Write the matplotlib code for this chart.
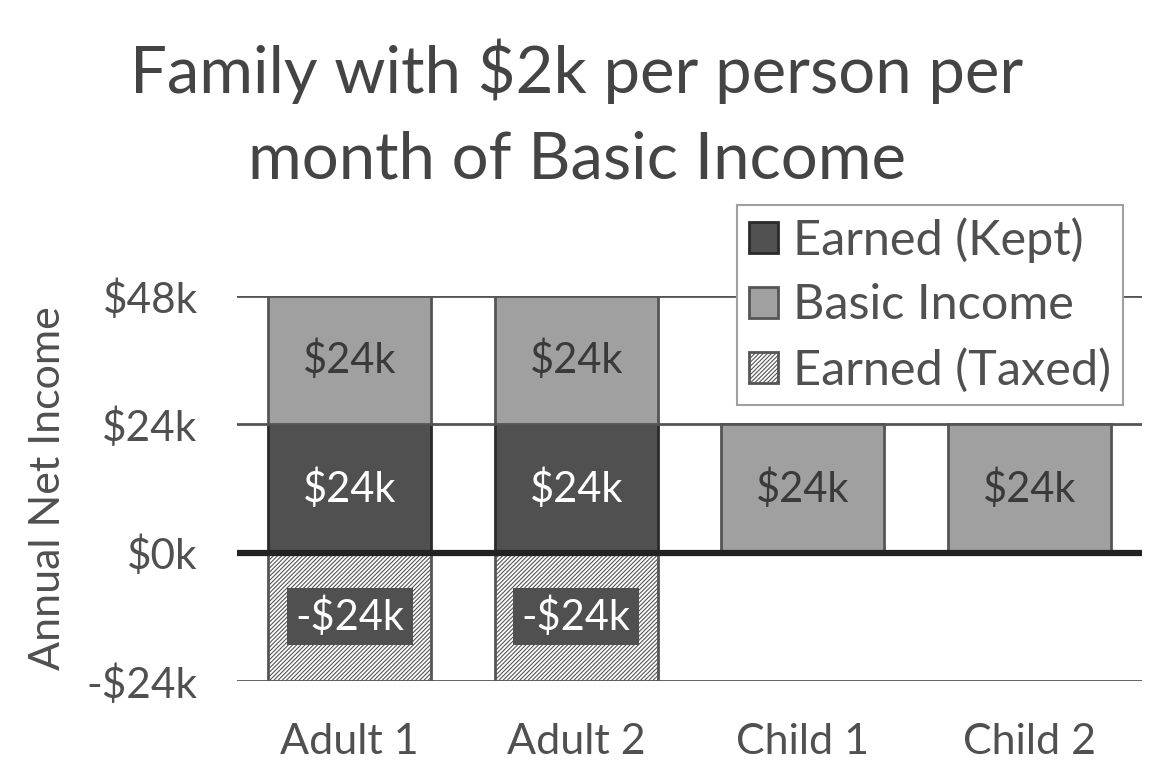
import matplotlib.pyplot as plt
import numpy as np

plt.rcParams['font.family'] = ['Lato', 'DejaVu Sans']
plt.rcParams['hatch.linewidth'] = 0.8

categories = ['Adult 1', 'Adult 2', 'Child 1', 'Child 2']
earned_kept = [24, 24, 0, 0]
basic_income = [24, 24, 24, 24]
earned_taxed = [-24, -24, 0, 0]
y_ticks = [-24, 0, 24, 48]

txt = '#505050'
dark = '#505050'
light = '#a0a0a0'

fig = plt.figure(figsize=(11.54, 7.66), dpi=100)
ax = fig.add_axes([0.205, 0.111, 0.785, 0.5025])

x = np.arange(len(categories))
w = 0.72

b1 = ax.bar(x, earned_kept, w, color=dark, edgecolor='#2a2a2a', linewidth=2,
            label='Earned (Kept)', zorder=3)
b2 = ax.bar(x, basic_income, w, bottom=earned_kept, color=light, edgecolor='#555555',
            linewidth=2, label='Basic Income', zorder=3)
b3 = ax.bar(x, earned_taxed, w, color='white', edgecolor='#555555', hatch='////////',
            linewidth=2, label='Earned (Taxed)', zorder=3)

for i in range(len(categories)):
    if earned_kept[i]:
        ax.text(x[i], earned_kept[i] / 2, f'${earned_kept[i]}k', ha='center', va='center',
                color='white', fontsize=30, zorder=5)
    ax.text(x[i], earned_kept[i] + basic_income[i] / 2, f'${basic_income[i]}k',
            ha='center', va='center', color='#3a3a3a', fontsize=30, zorder=5)
    if earned_taxed[i]:
        ax.text(x[i], earned_taxed[i] / 2, f'-${-earned_taxed[i]}k', ha='center', va='center',
                color='white', fontsize=30, zorder=5,
                bbox=dict(boxstyle='square,pad=0.2', facecolor=dark, edgecolor='none'))

ax.set_xlim(-0.5, 3.5)
ax.set_ylim(-24, 48)
ax.set_yticks(y_ticks)
ax.set_yticklabels([f'-${-v}k' if v < 0 else f'${v}k' for v in y_ticks])
ax.set_xticks(x)
ax.set_xticklabels(categories)
ax.tick_params(axis='y', length=0, labelsize=30.5, colors=txt, pad=28)
ax.tick_params(axis='x', length=0, labelsize=31, colors=txt, pad=30)
for s in ax.spines.values():
    s.set_visible(False)
for v in y_ticks:
    if v != 0:
        ax.axhline(v, color='#555555', linewidth=2, zorder=1)
ax.axhline(0, color='#222222', linewidth=4.5, zorder=4)
ax.set_ylabel('Annual Net Income', fontsize=31, color=txt, labelpad=14)

fig.suptitle('Family with $2k per person per\nmonth of Basic Income', fontsize=47,
             color='#444444', y=0.95, linespacing=1.55)

leg = fig.legend(handles=[b1, b2, b3], loc='upper right',
                 bbox_to_anchor=(1123 / 1154, 1 - 205 / 766), fontsize=35,
                 frameon=True, fancybox=False, edgecolor='#a0a0a0', framealpha=1,
                 handlelength=0.6, handleheight=0.6, handletextpad=0.3,
                 labelspacing=0.42, borderpad=0.25, borderaxespad=0)
for t in leg.get_texts():
    t.set_color(txt)
leg.get_frame().set_linewidth(1.5)

plt.savefig('out.png', dpi=100)
